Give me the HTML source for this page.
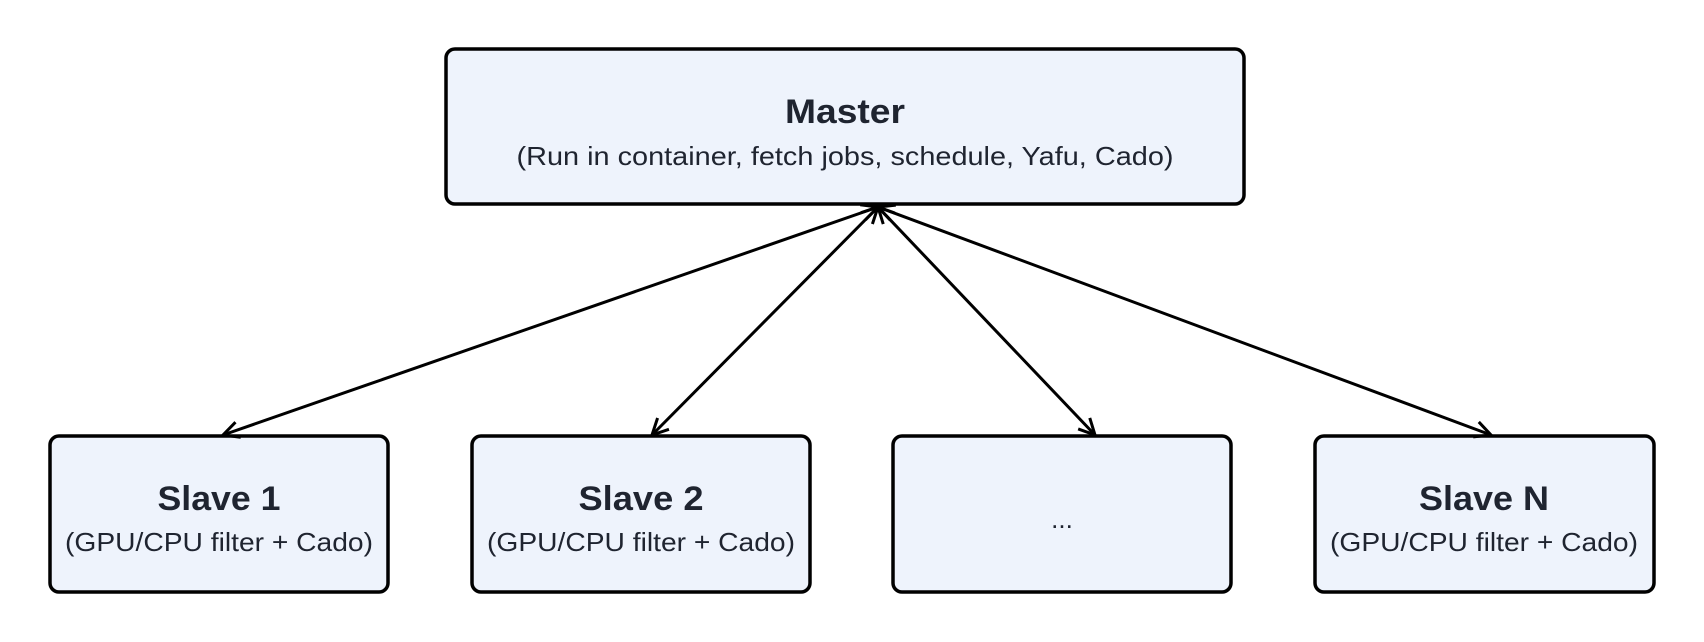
<!DOCTYPE html>
<html><head><meta charset="utf-8"><style>
html,body{margin:0;padding:0;background:#fff;}
svg{display:block;}
text{font-family:"Liberation Sans",sans-serif;fill:#1f2430;text-anchor:middle;}
.t{font-weight:bold;font-size:34px;}
.s{font-size:26px;}
</style></head><body>
<svg width="1704" height="642" viewBox="0 0 1704 642" xmlns="http://www.w3.org/2000/svg">
<defs>
<marker id="a" viewBox="0 0 20 20" refX="18" refY="10" markerWidth="20" markerHeight="20" markerUnits="userSpaceOnUse" orient="auto-start-reverse">
<path d="M2,2 L18,10 L2,18" fill="none" stroke="#000" stroke-width="3"/>
</marker>
</defs>
<g fill="#eef3fc" stroke="#000" stroke-width="3.5">
<rect x="446" y="49" width="798" height="155" rx="9"/>
<rect x="50" y="436" width="338" height="156" rx="9"/>
<rect x="472" y="436" width="338" height="156" rx="9"/>
<rect x="893" y="436" width="338" height="156" rx="9"/>
<rect x="1315" y="436" width="339" height="156" rx="9"/>
</g>
<g stroke="#000" stroke-width="3" fill="none" marker-start="url(#a)" marker-end="url(#a)">
<line x1="878" y1="207" x2="223" y2="435"/>
<line x1="878" y1="207" x2="652" y2="435"/>
<line x1="878" y1="207" x2="1095" y2="435"/>
<line x1="878" y1="207" x2="1491" y2="435"/>
</g>
<text class="t" x="845" y="123" textLength="120" lengthAdjust="spacingAndGlyphs">Master</text>
<text class="s" x="845" y="165" textLength="657" lengthAdjust="spacingAndGlyphs">(Run in container, fetch jobs, schedule, Yafu, Cado)</text>
<text class="t" x="219" y="510" textLength="123" lengthAdjust="spacingAndGlyphs">Slave 1</text>
<text class="s" x="219" y="551" textLength="308" lengthAdjust="spacingAndGlyphs">(GPU/CPU filter + Cado)</text>
<text class="t" x="641" y="510" textLength="125" lengthAdjust="spacingAndGlyphs">Slave 2</text>
<text class="s" x="641" y="551" textLength="308" lengthAdjust="spacingAndGlyphs">(GPU/CPU filter + Cado)</text>
<text class="s" x="1062" y="528">...</text>
<text class="t" x="1484" y="510" textLength="130" lengthAdjust="spacingAndGlyphs">Slave N</text>
<text class="s" x="1484" y="551" textLength="308" lengthAdjust="spacingAndGlyphs">(GPU/CPU filter + Cado)</text>
</svg>
</body></html>
